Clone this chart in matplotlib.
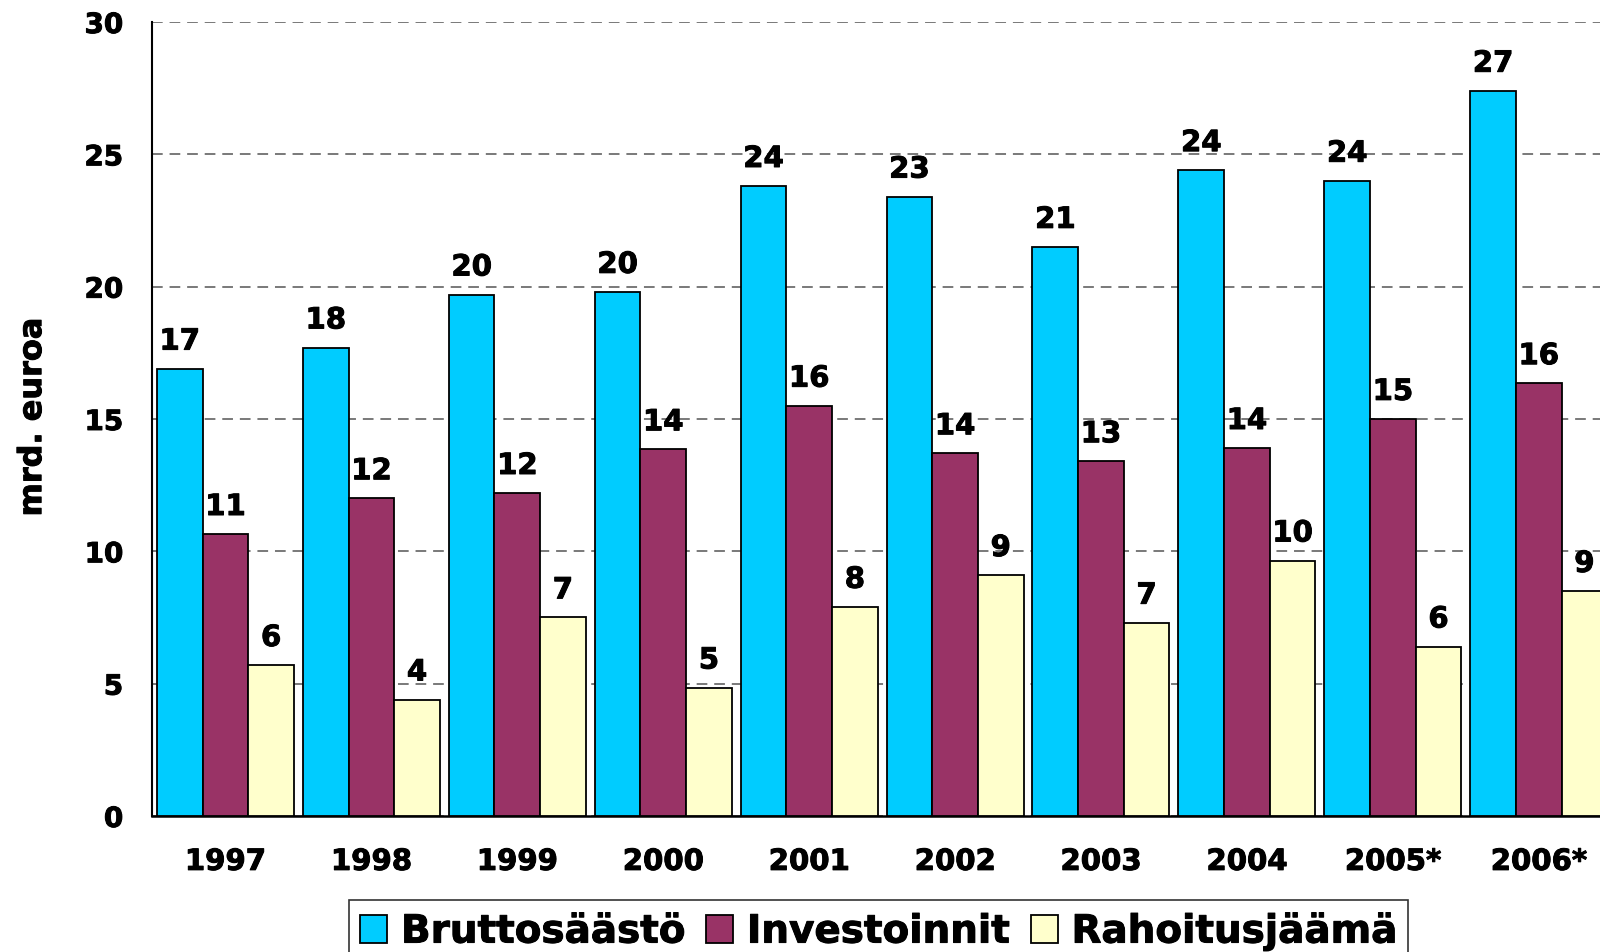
import matplotlib
matplotlib.use('Agg')
import matplotlib.pyplot as plt
import matplotlib.patheffects as pe
import numpy as np

plt.rcParams['font.family'] = ['DejaVu Sans']
plt.rcParams['font.weight'] = 'bold'

years = ['1997', '1998', '1999', '2000', '2001', '2002', '2003', '2004', '2005*', '2006*']
brutto = [16.9, 17.7, 19.7, 19.8, 23.8, 23.4, 21.5, 24.4, 24.0, 27.4]
invest = [10.65, 12.0, 12.2, 13.85, 15.5, 13.7, 13.4, 13.9, 15.0, 16.35]
rahoitus = [5.7, 4.4, 7.5, 4.85, 7.9, 9.1, 7.3, 9.65, 6.4, 8.5]
brutto_lbl = ['17', '18', '20', '20', '24', '23', '21', '24', '24', '27']
invest_lbl = ['11', '12', '12', '14', '16', '14', '13', '14', '15', '16']
rahoitus_lbl = ['6', '4', '7', '5', '8', '9', '7', '10', '6', '9']

series = [('Bruttosäästö', brutto, brutto_lbl, '#00CCFF'),
          ('Investoinnit', invest, invest_lbl, '#993366'),
          ('Rahoitusjäämä', rahoitus, rahoitus_lbl, '#FFFFCC')]

# a thin outline makes the bold text a bit heavier, like the original
heavy = [pe.withStroke(linewidth=0.7, foreground='black')]

fig = plt.figure(figsize=(16, 9.52), dpi=100)
ax = fig.add_axes([0.0953, 0.1429, 0.912, 0.834])

x = np.arange(len(years))
w = 0.313
for k, (name, vals, lbls, col) in enumerate(series):
    pos = x + (k - 1) * w
    ax.bar(pos, vals, width=w, color=col, edgecolor='black', linewidth=1.3,
           label=name, zorder=3)
    for px, v, t in zip(pos, vals, lbls):
        ax.annotate(t, (px, v), xytext=(0, 19.5), textcoords='offset points',
                    ha='center', va='center', fontsize=21, fontweight='bold',
                    annotation_clip=False, path_effects=heavy)

ax.set_xlim(-0.5, 9.5)
ax.set_ylim(0, 30)
ax.set_yticks(range(0, 31, 5))
ax.set_xticks(x)
ax.set_xticklabels(years)
ax.tick_params(axis='both', length=0)
ax.tick_params(axis='x', pad=23, labelsize=21)
ax.tick_params(axis='y', pad=21, labelsize=20)
for t in ax.get_xticklabels() + ax.get_yticklabels():
    t.set_path_effects(heavy)
ax.yaxis.grid(True, color='#555555', linestyle=(0, (7, 4.5)), linewidth=1.1, zorder=0)
ax.set_axisbelow(True)
for s in ['top', 'right']:
    ax.spines[s].set_visible(False)
ax.spines['left'].set_linewidth(1.5)
ax.spines['bottom'].set_linewidth(1.8)

fig.text(0.0204, 0.562, 'mrd. euroa', rotation=90, ha='center', va='center',
         fontsize=23, fontweight='bold', path_effects=heavy)

leg = fig.legend(loc='upper center', bbox_to_anchor=(0.549, 0.0546), ncol=3,
                 fontsize=28, frameon=True, fancybox=False, shadow=False,
                 handlelength=0.7, handleheight=0.7, handletextpad=0.35,
                 columnspacing=0.55, borderpad=0.3, borderaxespad=0)
leg.get_frame().set_edgecolor('black')
leg.get_frame().set_linewidth(1.2)
for t in leg.get_texts():
    t.set_path_effects(heavy)

fig.savefig('out.png', dpi=100)
